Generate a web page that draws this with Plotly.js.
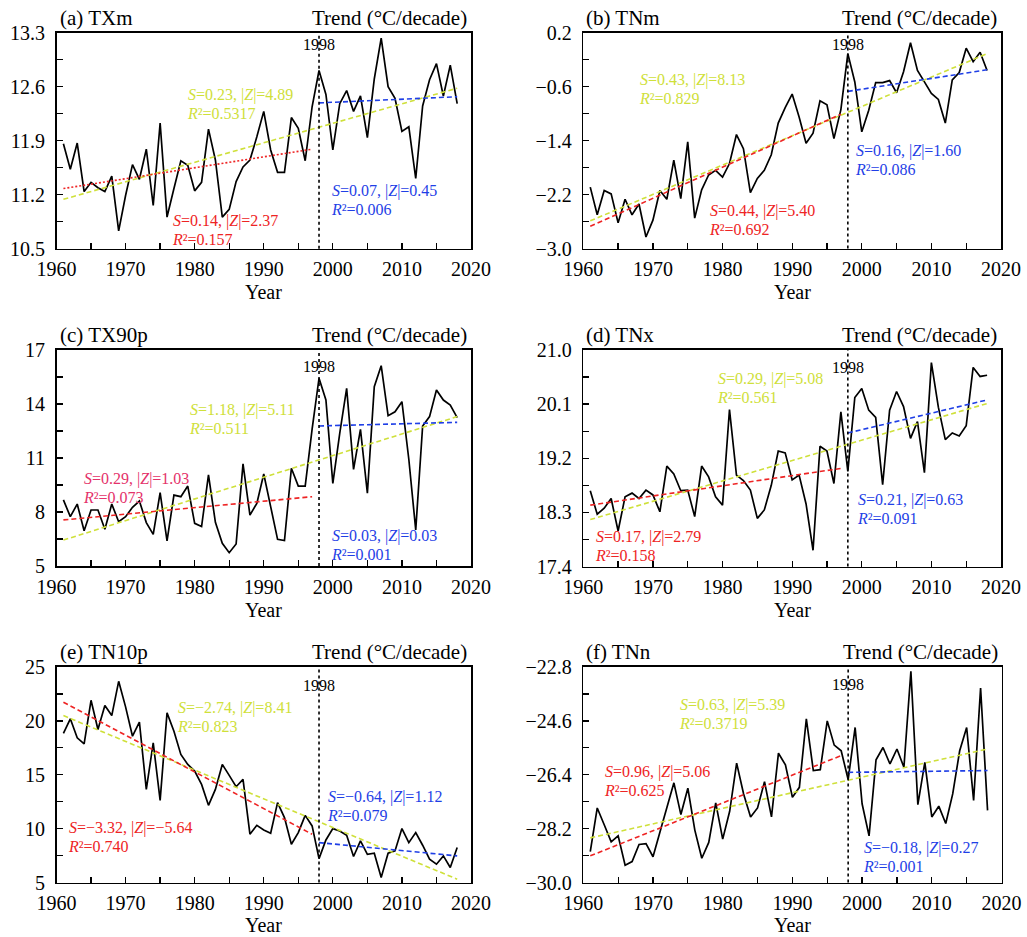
<!DOCTYPE html>
<html>
<head>
<meta charset="utf-8">
<script src="https://cdn.plot.ly/plotly-3.0.1.min.js"></script>
<style>html,body{margin:0;padding:0;background:#fff;}#chart{width:1027px;height:937px;}</style>
</head>
<body>
<div id="chart"></div>
<script>
// ---------------- DATA ----------------
const years = [1961,1962,1963,1964,1965,1966,1967,1968,1969,1970,1971,1972,1973,1974,1975,1976,1977,1978,1979,1980,
  1981,1982,1983,1984,1985,1986,1987,1988,1989,1990,1991,1992,1993,1994,1995,1996,1997,1998,1999,2000,
  2001,2002,2003,2004,2005,2006,2007,2008,2009,2010,2011,2012,2013,2014,2015,2016,2017,2018];
const breakYear = 1998;
const periodAll = [1961, 2018];
const periodPre = [1961, 1997];
const periodPost = [1998, 2018];
const xTicks = [1960, 1970, 1980, 1990, 2000, 2010, 2020];

const TXm = [11.86,11.53,11.87,11.24,11.36,11.29,11.24,11.44,10.73,11.19,11.59,11.40,11.79,11.06,12.13,10.91,11.28,11.64,11.58,11.25,
  11.36,12.05,11.65,10.91,11.01,11.37,11.56,11.65,11.95,12.28,11.78,11.49,11.49,12.20,12.06,11.64,12.34,12.81,12.50,11.78,
  12.38,12.55,12.28,12.48,11.94,12.70,13.23,12.60,12.45,12.02,12.08,11.41,12.35,12.69,12.90,12.48,12.88,12.38];
const TNm = [-2.09,-2.50,-2.14,-2.19,-2.62,-2.27,-2.50,-2.34,-2.83,-2.58,-2.14,-2.27,-1.69,-2.26,-1.42,-2.55,-2.13,-1.91,-1.84,-1.94,
  -1.74,-1.31,-1.52,-2.17,-1.96,-1.84,-1.61,-1.14,-0.91,-0.71,-1.05,-1.44,-1.29,-0.81,-0.87,-1.37,-0.94,-0.11,-0.53,-1.27,
  -0.95,-0.54,-0.54,-0.51,-0.69,-0.38,0.05,-0.36,-0.53,-0.70,-0.79,-1.14,-0.50,-0.39,-0.03,-0.23,-0.09,-0.36];
const TX90p = [8.67,7.74,8.44,6.96,8.11,8.11,7.04,8.44,7.46,7.74,8.26,8.61,7.41,6.76,9.07,6.39,8.94,8.85,9.44,7.37,
  7.19,10.06,7.43,6.26,5.74,6.22,10.67,7.83,8.48,10.11,8.30,6.48,6.41,10.43,9.44,9.44,12.6,15.43,14.22,9.59,
  12.37,14.87,10.37,12.59,9.04,14.96,16.13,13.35,13.57,14.13,10.93,7.0,12.78,13.30,14.78,14.22,13.94,13.24];
const TNx = [18.66,18.27,18.37,18.53,17.99,18.56,18.62,18.53,18.67,18.59,18.31,19.07,18.94,18.66,18.67,18.23,19.07,18.89,18.56,18.42,
  20.01,18.92,18.83,18.67,18.20,18.34,18.75,19.32,19.29,18.84,18.92,18.44,17.67,19.40,19.32,18.78,19.97,18.98,20.21,20.36,
  20.00,19.88,18.76,20.00,20.31,20.06,19.53,19.81,18.96,20.79,20.05,19.51,19.62,19.57,19.74,20.71,20.56,20.58];
const TN10p = [18.83,20.19,18.43,17.87,21.91,19.20,21.42,20.49,23.67,21.30,18.58,19.88,13.64,17.96,12.62,20.74,19.04,16.88,15.96,15.34,
  14.10,12.16,13.64,15.96,14.94,13.89,14.57,9.48,10.31,9.88,9.57,12.41,11.02,8.55,9.63,11.23,10.25,7.22,8.95,10.0,
  9.78,9.38,7.41,8.86,7.62,7.72,5.46,7.72,7.93,10.0,8.70,9.63,8.46,7.16,6.70,7.47,6.39,8.24];
const TNn = [-28.97,-27.51,-28.07,-28.64,-28.44,-29.42,-29.30,-28.73,-28.70,-29.14,-28.31,-27.51,-26.67,-27.73,-26.85,-28.25,-29.19,-28.66,-27.34,-28.55,
  -27.62,-26.01,-27.04,-27.81,-27.51,-26.63,-27.81,-25.68,-26.07,-27.15,-26.82,-24.53,-26.26,-26.23,-24.60,-25.41,-25.60,-26.56,-24.82,-27.37,
  -28.44,-25.90,-25.49,-26.04,-25.54,-26.15,-22.94,-27.40,-25.99,-27.81,-27.45,-28.03,-27.04,-25.60,-24.82,-27.26,-23.50,-27.59];

// trend line end values [start, end]
const TXm_trendAll = [11.14, 12.58], TXm_trendPre = [11.28, 11.79], TXm_trendPost = [12.39, 12.47];
const TNm_trendAll = [-2.59, -0.11], TNm_trendPre = [-2.67, -1.01], TNm_trendPost = [-0.67, -0.35];
const TX90p_trendAll = [6.44, 13.30], TX90p_trendPre = [7.56, 8.85], TX90p_trendPost = [12.78, 12.98];
const TNx_trendAll = [18.18, 20.11], TNx_trendPre = [18.42, 19.03], TNx_trendPost = [19.62, 20.17];
const TN10p_trendAll = [20.49, 5.31], TN10p_trendPre = [21.73, 9.48], TN10p_trendPost = [8.70, 7.47];
const TNn_trendAll = [-28.51, -25.54], TNn_trendPre = [-29.11, -25.76], TNn_trendPost = [-26.32, -26.26];

// statistics [S, |Z|, R2]
const TXm_statsAll = ['0.23','4.89','0.5317'], TXm_statsPre = ['0.14','2.37','0.157'], TXm_statsPost = ['0.07','0.45','0.006'];
const TNm_statsAll = ['0.43','8.13','0.829'], TNm_statsPre = ['0.44','5.40','0.692'], TNm_statsPost = ['0.16','1.60','0.086'];
const TX90p_statsAll = ['1.18','5.11','0.511'], TX90p_statsPre = ['0.29','1.03','0.073'], TX90p_statsPost = ['0.03','0.03','0.001'];
const TNx_statsAll = ['0.29','5.08','0.561'], TNx_statsPre = ['0.17','2.79','0.158'], TNx_statsPost = ['0.21','0.63','0.091'];
const TN10p_statsAll = ['\u22122.74','8.41','0.823'], TN10p_statsPre = ['\u22123.32','\u22125.64','0.740'], TN10p_statsPost = ['\u22120.64','1.12','0.079'];
const TNn_statsAll = ['0.63','5.39','0.3719'], TNn_statsPre = ['0.96','5.06','0.625'], TNn_statsPost = ['\u22120.18','0.27','0.001'];

// y tick labels
const TXm_yTicks = [10.5, 11.2, 11.9, 12.6, 13.3];
const TNm_yTicks = [-3.0, -2.2, -1.4, -0.6, 0.2];
const TX90p_yTicks = [5, 8, 11, 14, 17];
const TNx_yTicks = [17.4, 18.3, 19.2, 20.1, 21.0];
const TN10p_yTicks = [5, 10, 15, 20, 25];
const TNn_yTicks = [-30.0, -28.2, -26.4, -24.6, -22.8];

const panelTitles = ['(a) TXm', '(b) TNm', '(c) TX90p', '(d) TNx', '(e) TN10p', '(f) TNn'];
const trendLabel = 'Trend (\u00B0C/decade)';
const xTitle = 'Year';

// ---------------- LAYOUT / STYLE ----------------
const W = 1027, H = 937;
const FONT = '"Liberation Serif", "Times New Roman", Times, serif';
const YEL = '#cfe03a', RED = '#ee2424', BLUE = '#1f3fe6', CRIM = '#e4326a';
const STAT_SIZE = 16, LINE_GAP_EM = 1.16;

// box = [left, right, top, bottom] in pixels; pos = [left x, centre y of first line] (pixels)
const panels = [
  {vals: TXm, tA: TXm_trendAll, tP: TXm_trendPre, tQ: TXm_trendPost, sA: TXm_statsAll, sP: TXm_statsPre, sQ: TXm_statsPost, yt: TXm_yTicks, fmt: '.1f',
   box: [56.5, 471, 32.7, 248.7], redDash: '2px,2px', redText: RED, lab1998: 11.5, yearY: 291.5, bottomRow: false,
   pos: {A: [185, 96], P: [170, 222], Q: [329, 192]}},
  {vals: TNm, tA: TNm_trendAll, tP: TNm_trendPre, tQ: TNm_trendPost, sA: TNm_statsAll, sP: TNm_statsPre, sQ: TNm_statsPost, yt: TNm_yTicks, fmt: '.1f',
   box: [583.3, 1001, 32.7, 248.5], redDash: '5px,3px', redText: RED, lab1998: 12, yearY: 291.5, bottomRow: false,
   pos: {A: [637, 81], P: [707, 212], Q: [853, 152.7]}},
  {vals: TX90p, tA: TX90p_trendAll, tP: TX90p_trendPre, tQ: TX90p_trendPost, sA: TX90p_statsAll, sP: TX90p_statsPre, sQ: TX90p_statsPost, yt: TX90p_yTicks, fmt: 'd',
   box: [56.5, 471, 350, 566], redDash: '5px,3px', redText: CRIM, lab1998: 16.7, yearY: 609.5, bottomRow: false,
   pos: {A: [186.7, 411.7], P: [80.7, 480], Q: [329, 537]}},
  {vals: TNx, tA: TNx_trendAll, tP: TNx_trendPre, tQ: TNx_trendPost, sA: TNx_statsAll, sP: TNx_statsPre, sQ: TNx_statsPost, yt: TNx_yTicks, fmt: '.1f',
   box: [583.3, 1001, 350, 566.5], redDash: '5px,3px', redText: RED, lab1998: 17.3, yearY: 609.5, bottomRow: false,
   pos: {A: [715, 380.7], P: [593, 538], Q: [855, 501.7]}},
  {vals: TN10p, tA: TN10p_trendAll, tP: TN10p_trendPre, tQ: TN10p_trendPost, sA: TN10p_statsAll, sP: TN10p_statsPre, sQ: TN10p_statsPost, yt: TN10p_yTicks, fmt: 'd',
   box: [56.5, 471, 667, 882.5], redDash: '5px,3px', redText: RED, lab1998: 18, yearY: 937, bottomRow: true,
   pos: {A: [175, 709], P: [66, 829.5], Q: [325, 798.5]}},
  {vals: TNn, tA: TNn_trendAll, tP: TNn_trendPre, tQ: TNn_trendPost, sA: TNn_statsAll, sP: TNn_statsPre, sQ: TNn_statsPost, yt: TNn_yTicks, fmt: '.1f',
   box: [583.3, 1001.5, 667, 882.5], redDash: '5px,3px', redText: RED, lab1998: 17, yearY: 937, bottomRow: true,
   pos: {A: [677, 706], P: [601.7, 773.5], Q: [860.7, 849]}}
];

const px = x => x / W;
const py = y => 1 - y / H;
const data = [];
const annotations = [];
const shapes = [];
const layout = {
  width: W, height: H, margin: {l: 0, r: 0, t: 0, b: 0},
  paper_bgcolor: '#fff', plot_bgcolor: '#fff', showlegend: false,
  font: {family: FONT, color: '#000'}
};

function statText(s) {
  return '<i>S</i>=' + s[0] + ', |<i>Z</i>|=' + s[1] + '<br><i>R</i>\u00B2=' + s[2];
}

panels.forEach((p, i) => {
  const n = i + 1;
  const xa = 'xaxis' + (n > 1 ? n : ''), ya = 'yaxis' + (n > 1 ? n : '');
  const xr = 'x' + (n > 1 ? n : ''), yr = 'y' + (n > 1 ? n : '');
  const [L, R, T, B] = p.box;
  const yMin = p.yt[0], yMax = p.yt[p.yt.length - 1];
  const minorY = [];
  for (let k = 0; k < p.yt.length - 1; k++) minorY.push((p.yt[k] + p.yt[k + 1]) / 2);

  layout[xa] = {
    domain: [px(L), px(R)], anchor: yr, range: [1960, 2020],
    tickmode: 'array', tickvals: xTicks, ticktext: xTicks.map(String),
    ticks: 'inside', ticklen: 6, tickwidth: 1.3, tickcolor: '#000',
    minor: {tickmode: 'linear', tick0: 1965, dtick: 10, ticks: 'inside', ticklen: 6, tickwidth: 1.3, tickcolor: '#000', showgrid: false},
    showline: true, mirror: true, linewidth: 1.6, linecolor: '#000',
    showgrid: false, zeroline: false,
    tickfont: {family: FONT, size: 20, color: '#000'},
    ticklabelstandoff: 2
  };
  layout[ya] = {
    domain: [py(B), py(T)], anchor: xr, range: [yMin, yMax],
    tickmode: 'array', tickvals: p.yt, ticktext: p.yt.map(v => p.fmt === 'd' ? String(v) : v.toFixed(1).replace('-', '\u2212')),
    ticks: 'inside', ticklen: 6, tickwidth: 1.3, tickcolor: '#000',
    minor: {tickmode: 'array', tickvals: minorY, ticks: 'inside', ticklen: 6, tickwidth: 1.3, tickcolor: '#000', showgrid: false},
    showline: true, mirror: true, linewidth: 1.6, linecolor: '#000',
    showgrid: false, zeroline: false,
    tickfont: {family: FONT, size: 20, color: '#000'},
    ticklabelstandoff: 6
  };

  // observed series
  data.push({x: years, y: p.vals, xaxis: xr, yaxis: yr, type: 'scatter', mode: 'lines',
    line: {color: '#000', width: 1.7}, hoverinfo: 'skip'});
  // trend lines
  data.push({x: periodAll, y: p.tA, xaxis: xr, yaxis: yr, type: 'scatter', mode: 'lines',
    line: {color: YEL, width: 1.6, dash: '5px,3px'}, hoverinfo: 'skip'});
  data.push({x: periodPre, y: p.tP, xaxis: xr, yaxis: yr, type: 'scatter', mode: 'lines',
    line: {color: RED, width: 1.6, dash: p.redDash}, hoverinfo: 'skip'});
  data.push({x: periodPost, y: p.tQ, xaxis: xr, yaxis: yr, type: 'scatter', mode: 'lines',
    line: {color: BLUE, width: 1.6, dash: '5px,3px'}, hoverinfo: 'skip'});

  // 1998 break line
  shapes.push({type: 'line', xref: xr, yref: yr + ' domain', x0: breakYear, x1: breakYear, y0: 0, y1: 1,
    line: {color: '#000', width: 1.6, dash: '3px,3px'}});
  annotations.push({xref: xr, yref: 'paper', x: breakYear, y: py(T + p.lab1998), text: String(breakYear),
    showarrow: false, xanchor: 'center', yanchor: 'middle', font: {family: FONT, size: 16, color: '#000'}});

  // panel titles
  annotations.push({xref: 'paper', yref: 'paper', x: px(L + 1), y: py(T - 15), text: panelTitles[i],
    showarrow: false, xanchor: 'left', yanchor: 'middle', font: {family: FONT, size: 21, color: '#000'}});
  annotations.push({xref: 'paper', yref: 'paper', x: px(R - 2), y: py(T - 15), text: trendLabel,
    showarrow: false, xanchor: 'right', yanchor: 'middle', font: {family: FONT, size: 21, color: '#000'}});

  // x-axis title "Year"
  annotations.push({xref: 'paper', yref: 'paper', x: px((L + R) / 2), y: py(p.yearY), text: xTitle,
    showarrow: false, xanchor: 'center', yanchor: p.bottomRow ? 'bottom' : 'middle', borderpad: 0,
    font: {family: FONT, size: 20, color: '#000'}});

  // stats text blocks (two lines each)
  const addStats = (pos, s, color) => {
    annotations.push({xref: 'paper', yref: 'paper', x: px(pos[0]), y: py(pos[1] - 12.4), text: statText(s),
      showarrow: false, xanchor: 'left', yanchor: 'top', align: 'left', borderpad: 1,
      font: {family: FONT, size: STAT_SIZE, color: color}});
  };
  addStats(p.pos.A, p.sA, YEL);
  addStats(p.pos.P, p.sP, p.redText);
  addStats(p.pos.Q, p.sQ, BLUE);
});

layout.annotations = annotations;
layout.shapes = shapes;

Plotly.newPlot('chart', data, layout, {staticPlot: true, displayModeBar: false}).then(gd => {
  // set the line spacing of the two-line statistics blocks (tighter than Plotly's default)
  gd.querySelectorAll('text.annotation-text').forEach(t => {
    const lines = t.querySelectorAll('tspan.line');
    if (lines.length > 1) {
      lines.forEach((ln, k) => ln.setAttribute('dy', (k * LINE_GAP_EM) + 'em'));
    }
  });
});
</script>
</body>
</html>
